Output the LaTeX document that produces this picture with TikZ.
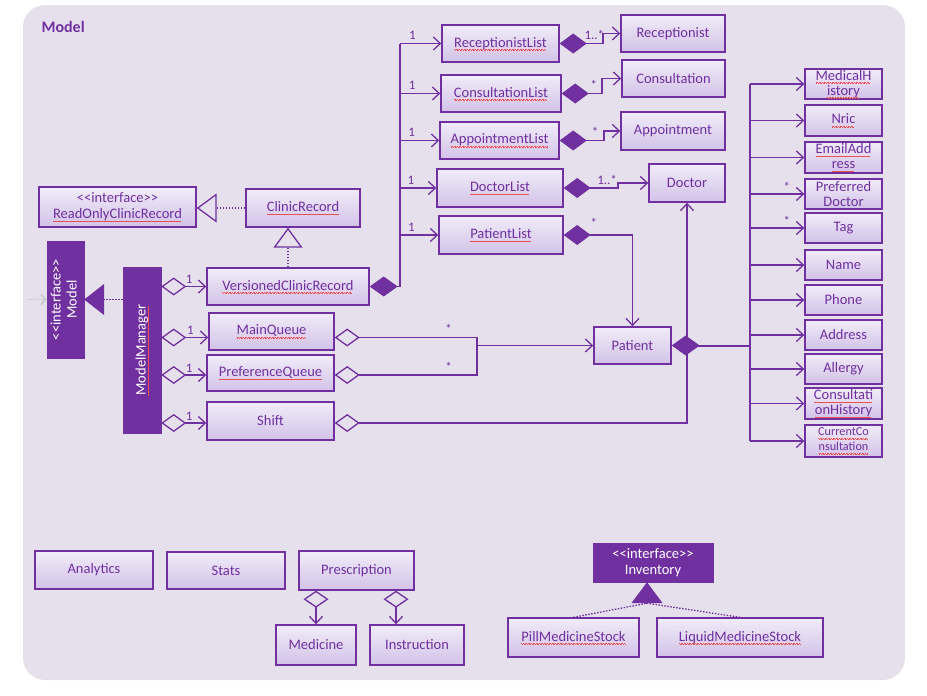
\documentclass[tikz,border=0pt]{standalone}
\usepackage{fontspec}
\setmainfont{Carlito}[Ligatures=TeXOff]
\usepackage{graphicx}
\usetikzlibrary{arrows.meta,positioning,calc}
\definecolor{umlpurple}{RGB}{112,48,160}
\definecolor{boxtop}{RGB}{241,236,248}
\definecolor{boxbot}{RGB}{210,194,232}
\definecolor{modelbg}{RGB}{230,224,236}
\definecolor{spellred}{RGB}{235,80,80}

% red squiggle of the spell checker
\newcommand{\spellwave}{\hbox{\raise0.5pt\hbox{\rule{0.8pt}{0.45pt}}\rule{0.8pt}{0.45pt}}}
\newcommand{\spell}[1]{\leavevmode\setbox0=\hbox{#1}%
    \rlap{\lower3pt\hbox to\wd0{\color{spellred}\leaders\spellwave\hfil}}\box0}

\tikzset{
    cls/.style={draw=umlpurple, line width=1.4pt, top color=boxtop, bottom color=boxbot,
        text=umlpurple, font=\fontsize{14.5}{16}\selectfont, align=center, inner sep=1pt},
    iface/.style={draw=umlpurple, fill=umlpurple, text=white,
        font=\fontsize{14.5}{16}\selectfont, align=center, inner sep=1pt},
    sz/.style 2 args={minimum width=#1pt, minimum height=#2pt},
    link/.style={draw=umlpurple, line width=1.3pt},
    assoc/.style={link, -{Straight Barb[length=7pt,width=13pt]}},
    aggr/.style={link, {Diamond[open,length=25pt,width=18pt]}-{Straight Barb[length=7pt,width=13pt]}},
    aggrv/.style={link, {Diamond[open,length=17pt,width=25pt]}-{Straight Barb[length=7pt,width=13pt]}},
    aggrline/.style={link, {Diamond[open,length=25pt,width=18pt]}-},
    compo/.style={link, {Diamond[length=27pt,width=20pt]}-{Straight Barb[length=7pt,width=13pt]}},
    compline/.style={link, {Diamond[length=28pt,width=20pt]}-},
    realize/.style={link, dash pattern=on 1.5pt off 1.5pt, -{Triangle[open,length=20pt,width=29pt]}},
    realizef/.style={link, dash pattern=on 1.5pt off 1.5pt, -{Triangle[length=20pt,width=31pt]}},
    dotlink/.style={link, dash pattern=on 1.5pt off 1.5pt},
    extlink/.style={draw=gray!45, line width=1.3pt, dash pattern=on 1.5pt off 1.5pt,
        -{Straight Barb[length=5pt,width=10pt]}},
    bus/.style={draw=umlpurple, line width=2.4pt},
    mult/.style={text=umlpurple, font=\fontsize{13}{13}\selectfont, inner sep=1pt},
}

\begin{document}
\begin{tikzpicture}[x=1pt,y=-1pt]
    \useasboundingbox (0,0) rectangle (927,696);
    \fill[modelbg, rounded corners=22pt] (23,5) rectangle (905,680);

    % Title
    \node[font=\fontsize{16}{18}\selectfont\bfseries, text=umlpurple, anchor=west] (title) at (38,27) {Model};

    % Record and manager classes
    \node[cls, sz={157}{40}] (readonly) at (117.5,207) {<<interface>>\\\spell{ReadOnlyClinicRecord}};
    \node[cls, sz={114}{38}] (clinic) at (303,208) {\spell{ClinicRecord}};
    \node[iface, sz={37}{117}] (model) at (65.5,299.5)
        {\rotatebox{90}{\begin{tabular}{@{}c@{}}<<interface>>\\Model\end{tabular}}};
    \node[iface, sz={38}{166}] (mgr) at (142,350) {\rotatebox{90}{\spell{ModelManager}}};
    \node[cls, sz={162}{37}] (versioned) at (288,286.5) {\spell{VersionedClinicRecord}};
    \node[cls, sz={125}{37}] (mainq) at (271.5,331.5) {\spell{MainQueue}};
    \node[cls, sz={127}{36}] (prefq) at (270.5,373) {\spell{PreferenceQueue}};
    \node[cls, sz={127}{38}] (shift) at (270.5,421) {Shift};

    % Lists and their elements
    \node[cls, sz={117}{37}] (reclist) at (500.5,43.5) {\spell{ReceptionistList}};
    \node[cls, sz={120}{37}] (conlist) at (501,93.5) {\spell{ConsultationList}};
    \node[cls, sz={119}{37}] (applist) at (499.5,140.5) {\spell{AppointmentList}};
    \node[cls, sz={126}{38}] (doclist) at (500,188) {\spell{DoctorList}};
    \node[cls, sz={124}{38}] (patlist) at (501,235) {\spell{PatientList}};
    \node[cls, sz={104}{37}] (recep) at (673,33.5) {Receptionist};
    \node[cls, sz={103}{37}] (consult) at (673.5,78.5) {Consultation};
    \node[cls, sz={104}{38}] (appt) at (673,131) {Appointment};
    \node[cls, sz={76}{38}] (doctor) at (687,183) {Doctor};
    \node[cls, sz={77}{37}] (patient) at (632.5,345.5) {Patient};

    % Patient attributes
    \foreach \n/\y/\h/\fs/\t in {
        medhist/84/30/14.5/{\spell{MedicalH}\\\spell{istory}},
        nric/120.5/31/14.5/{\spell{Nric}},
        email/157.5/31/14.5/{\spell{EmailAdd}\\\spell{ress}},
        prefdoc/194/30/14.5/{Preferred\\Doctor},
        tag/228/30/14.5/{Tag},
        name/265/30/14.5/{Name},
        phone/300/30/14.5/{Phone},
        address/335/30/14.5/{Address},
        allergy/369/30/14.5/{Allergy},
        conshist/403.5/31/14.5/{\spell{Consultati}\\\spell{onHistory}},
        curcons/441/32/12.2/{\spell{CurrentCo}\\\spell{nsultation}}}
        \node[cls, sz={77}{\h}, font=\fontsize{\fs}{15}\selectfont] (\n) at (843.5,\y) {\t};

    % Bottom classes
    \node[cls, sz={118}{38}] (analytics) at (94,570) {Analytics};
    \node[cls, sz={118}{37}] (stats) at (226,570.5) {Stats};
    \node[cls, sz={115}{39}] (presc) at (356.5,570.5) {Prescription};
    \node[cls, sz={80}{40}] (medicine) at (316,645) {Medicine};
    \node[cls, sz={94}{40}] (instr) at (417,645) {Instruction};
    \node[iface, sz={120}{39}] (inventory) at (653,562.5) {<<interface>>\\Inventory};
    \node[cls, sz={131}{39}] (pill) at (573.5,637.5) {\spell{PillMedicineStock}};
    \node[cls, sz={166}{39}] (liquid) at (740,637.5) {\spell{LiquidMedicineStock}};

    % Realisations
    \draw[realize] (clinic.west) -- (clinic.west -| readonly.east);
    \draw[realize] (versioned.north) -- (versioned.north |- clinic.south);
    \draw[realizef] (mgr.west |- model.east) -- (model.east);
    \coordinate (outside) at (27,299.5);
    \draw[extlink] (outside) -- (model.west);

    % ModelManager parts
    \foreach \t/\dy in {versioned/0, mainq/-6, prefq/-2, shift/-2}
        \draw[aggr] ([yshift=\dy pt]mgr.east |- \t.west) -- node[mult, pos=0.62, above=1pt] {1} ([yshift=\dy pt]\t.west);

    % Record bus
    \coordinate (rbus) at (400,43.5);
    \draw[compline] (versioned.east) -- (versioned.east -| rbus);
    \draw[bus] (versioned.east -| rbus) -- (rbus);
    \foreach \t in {reclist,conlist,applist,doclist,patlist}
        \draw[assoc] (rbus |- \t.west) -- node[mult, pos=0.3, above=2pt] {1} (\t.west);

    % Lists to elements
    \foreach \a/\b/\x/\m in {reclist/recep/603/1..*, conlist/consult/602/*, applist/appt/604/*, doclist/doctor/618/1..*}
        \draw[compo] (\a.east) -- node[mult, pos=0.8, above=2pt] {\m} (\x,0 |- \a.east) |- (\b.west);
    \draw[compo] (patlist.east) -| node[mult, pos=0.22, above=6pt] {*} (patient.north);

    % Queues and shift
    \coordinate (qjoin) at (477,345.5);
    \draw[aggrline] ([yshift=-6pt]mainq.east) -| node[mult, pos=0.4, above=2pt] {*} (qjoin);
    \draw[aggrline] ([yshift=-2pt]prefq.east) -| node[mult, pos=0.4, above=2pt] {*} (qjoin);
    \draw[assoc] (qjoin) -- (patient.west);
    \draw[aggr] ([yshift=-2pt]shift.east) -| (doctor.south);

    % Patient attributes bus
    \coordinate (abus) at (750,345.5);
    \draw[compline, line width=2pt] (patient.east) -- (abus);
    \draw[bus] (abus |- medhist.west) -- (abus |- curcons.west);
    \foreach \n/\m in {medhist/, nric/, email/, prefdoc/*, tag/*, name/, phone/, address/, allergy/, conshist/, curcons/}
        \draw[assoc] (abus |- \n.west) -- node[mult, pos=0.68, above=1pt] {\m} (\n.west);

    % Prescription parts
    \draw[aggrv] (presc.south -| medicine.north) -- (medicine.north);
    \coordinate (instrtop) at ([xshift=-21pt]instr.north);
    \draw[aggrv] (presc.south -| instrtop) -- (instrtop);

    % Inventory stocks
    \coordinate (invbase) at ([xshift=-6pt,yshift=-21pt]inventory.south);
    \draw[dotlink] (pill.north) -- (invbase);
    \draw[dotlink] (liquid.north) -- (invbase);
    \draw[link, -{Triangle[length=21pt,width=31pt]}] (invbase) -- ([xshift=-6pt]inventory.south);

\end{tikzpicture}
\end{document}
